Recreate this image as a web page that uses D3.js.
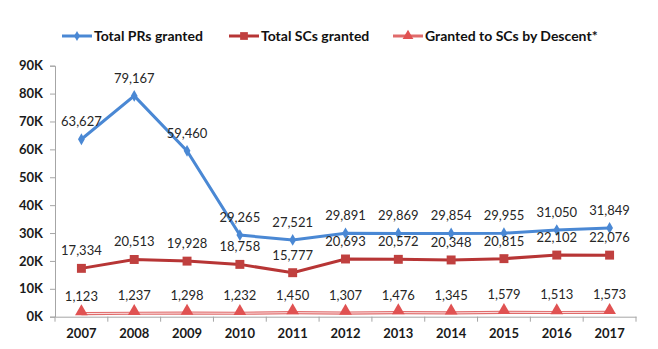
<!DOCTYPE html>
<html>
<head>
<meta charset="utf-8">
<script src="https://cdn.jsdelivr.net/npm/d3@7"></script>
<style>
body { margin: 0; background: #fff; }
svg { display: block; font-family: Lato, "Open Sans", sans-serif; }
</style>
</head>
<body>
<svg id="chart" width="658" height="349"></svg>
<script>
var years = ["2007", "2008", "2009", "2010", "2011", "2012", "2013", "2014", "2015", "2016", "2017"];
var prs = [63627, 79167, 59460, 29265, 27521, 29891, 29869, 29854, 29955, 31050, 31849];
var scs = [17334, 20513, 19928, 18758, 15777, 20693, 20572, 20348, 20815, 22102, 22076];
var descent = [1123, 1237, 1298, 1232, 1450, 1307, 1476, 1345, 1579, 1513, 1573];
var yTicks = [0, 10000, 20000, 30000, 40000, 50000, 60000, 70000, 80000, 90000];
var seriesNames = ["Total PRs granted", "Total SCs granted", "Granted to SCs by Descent*"];

var svg = d3.select("#chart");
var plotLeft = 55, plotRight = 636, plotTop = 65.7, plotBottom = 316.7;

var x = d3.scaleBand().domain(years).range([plotLeft, plotRight]);
var y = d3.scaleLinear().domain([0, 90000]).range([plotBottom, plotTop]);

// y axis
var yAxis = svg.append("g")
    .attr("transform", "translate(" + plotLeft + ",0)")
    .call(d3.axisLeft(y).tickValues(yTicks).tickSize(5).tickFormat(d => (d / 1000) + "K"));
yAxis.select(".domain").attr("stroke", "#a6a6a6");
yAxis.selectAll(".tick line").attr("stroke", "#a6a6a6");
yAxis.selectAll(".tick text")
    .attr("x", -12)
    .attr("font-size", 13)
    .attr("font-weight", "bold")
    .attr("font-family", "Lato, sans-serif")
    .attr("fill", "#1a1a1a");

// x axis
var xAxis = svg.append("g")
    .attr("transform", "translate(0," + plotBottom + ")")
    .call(d3.axisBottom(x).tickSize(0).tickSizeOuter(0));
xAxis.select(".domain").attr("stroke", "#a6a6a6");
xAxis.selectAll(".tick text")
    .attr("dy", 0)
    .attr("y", 21)
    .attr("font-size", 13)
    .attr("font-weight", "bold")
    .attr("font-family", "Lato, sans-serif")
    .attr("fill", "#1a1a1a");
svg.append("g").selectAll("line")
    .data(years.concat(["end"]))
    .join("line")
    .attr("x1", (d, i) => plotLeft + i * x.step())
    .attr("x2", (d, i) => plotLeft + i * x.step())
    .attr("y1", plotBottom)
    .attr("y2", plotBottom + 5)
    .attr("stroke", "#a6a6a6");

var cx = d => x(d) + x.bandwidth() / 2;
var line = d3.line().x((d, i) => cx(years[i])).y(d => y(d));

// descent line (hollow-looking)
svg.append("path").datum(descent).attr("d", line)
    .attr("fill", "none").attr("stroke", "#e06b6b").attr("stroke-width", 3.2);
svg.append("path").datum(descent).attr("d", line)
    .attr("fill", "none").attr("stroke", "#fbe0e0").attr("stroke-width", 1);
// scs line
svg.append("path").datum(scs).attr("d", line)
    .attr("fill", "none").attr("stroke", "#b73535").attr("stroke-width", 3);
// prs line
svg.append("path").datum(prs).attr("d", line)
    .attr("fill", "none").attr("stroke", "#4a88d4").attr("stroke-width", 3);

var diamond = d3.symbol().type(d3.symbolDiamond).size(40);
var square = d3.symbol().type(d3.symbolSquare).size(80);
var triangle = d3.symbol().type(d3.symbolTriangle).size(70);

svg.append("g").selectAll("path").data(prs).join("path")
    .attr("d", diamond)
    .attr("transform", (d, i) => "translate(" + cx(years[i]) + "," + y(d) + ")")
    .attr("fill", "#4a88d4");
svg.append("g").selectAll("path").data(scs).join("path")
    .attr("d", square)
    .attr("transform", (d, i) => "translate(" + cx(years[i]) + "," + y(d) + ")")
    .attr("fill", "#c0403f");
svg.append("g").selectAll("path").data(descent).join("path")
    .attr("d", triangle)
    .attr("transform", (d, i) => "translate(" + cx(years[i]) + "," + (y(d) - 2) + ")")
    .attr("fill", "#e05252");

// data labels
var fmt = d3.format(",");
function labels(data, dy) {
    svg.append("g").selectAll("text").data(data).join("text")
        .attr("x", (d, i) => cx(years[i]))
        .attr("y", d => y(d) + dy)
        .attr("text-anchor", "middle")
        .attr("font-size", 13)
        .attr("font-family", "Lato, sans-serif")
        .attr("fill", "#262626")
        .text(d => fmt(d));
}
labels(prs, -13);
labels(scs, -13);
labels(descent, -13);

// legend
var legendItems = [
    {name: seriesNames[0], color: "#4a88d4", x: 62},
    {name: seriesNames[1], color: "#b73535", x: 229},
    {name: seriesNames[2], color: "#e06b6b", x: 393}
];
var lg = svg.append("g").selectAll("g").data(legendItems).join("g")
    .attr("transform", d => "translate(" + d.x + ",36)");
lg.append("line").attr("x1", 0).attr("x2", 30)
    .attr("stroke", d => d.color).attr("stroke-width", 3);
lg.append("path")
    .attr("d", (d, i) => d3.symbol().type([d3.symbolDiamond, d3.symbolSquare, d3.symbolTriangle][i]).size([30, 60, 50][i])())
    .attr("transform", "translate(15,0)")
    .attr("fill", (d, i) => ["#4a88d4", "#c0403f", "#e05252"][i]);
lg.append("text")
    .attr("x", 32).attr("y", 5)
    .attr("font-size", 14)
    .attr("font-weight", "bold")
    .attr("font-family", "Lato, sans-serif")
    .attr("fill", "#111")
    .text(d => d.name);
</script>
</body>
</html>
